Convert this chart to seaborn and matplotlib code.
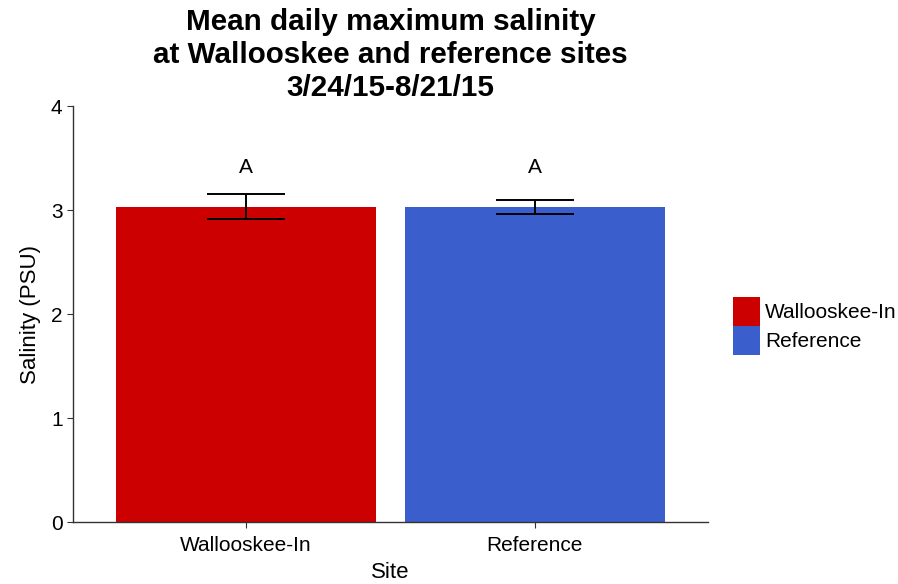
import matplotlib
matplotlib.use("Agg")
import matplotlib.pyplot as plt
import seaborn as sns
import pandas as pd

sites = ["Wallooskee-In", "Reference"]
mean_salinity = [3.03, 3.03]
std_error = [0.12, 0.065]
letters = ["A", "A"]
letter_y = [3.41, 3.41]
colors = ["#CC0000", "#3A5FCD"]

df = pd.DataFrame({"Site": sites, "Salinity": mean_salinity})

sns.set_style("ticks")
plt.rcParams["font.family"] = ["Liberation Sans", "DejaVu Sans"]
plt.rcParams["text.color"] = "black"
plt.rcParams["axes.labelcolor"] = "black"

fig = plt.figure(figsize=(8.98, 5.84), dpi=100)
ax = fig.add_axes([73 / 898, 1 - 522 / 584, (708 - 73) / 898, (522 - 106) / 584])

sns.barplot(data=df, x="Site", y="Salinity", hue="Site", order=sites,
            hue_order=sites, palette=colors, dodge=False, width=0.9,
            errorbar=None, legend=True, ax=ax, saturation=1, linewidth=0)

ax.errorbar(range(len(sites)), mean_salinity, yerr=std_error, fmt="none",
            ecolor="black", elinewidth=1.4, capsize=28, capthick=1.4)

for i, (lab, y) in enumerate(zip(letters, letter_y)):
    ax.text(i, y, lab, ha="center", va="center", fontsize=15, color="black")

ax.set_xlim(-0.6, 1.6)
ax.set_ylim(0, 4)
ax.set_yticks([0, 1, 2, 3, 4])
ax.set_xlabel("Site", fontsize=16, labelpad=5)
ax.set_ylabel("Salinity (PSU)", fontsize=16, labelpad=7)
ax.tick_params(axis="both", labelsize=15, length=4, color="#333333",
               labelcolor="black")
ax.tick_params(axis="x", pad=6)
for side in ["top", "right"]:
    ax.spines[side].set_visible(False)
for side in ["left", "bottom"]:
    ax.spines[side].set_color("#333333")
    ax.spines[side].set_linewidth(1.0)

ax.set_title("Mean daily maximum salinity\nat Wallooskee and reference sites\n3/24/15-8/21/15",
             fontsize=21.3, fontweight="bold", pad=7, linespacing=1.24,
             color="black")

leg = ax.legend(loc="center left", bbox_to_anchor=(733 / 898, 1 - 326 / 584),
                bbox_transform=fig.transFigure, frameon=False,
                fontsize=15, title=None, handlelength=1.3, handleheight=1.75,
                handletextpad=0.25, labelspacing=0.0, borderaxespad=0,
                borderpad=0)

fig.savefig("out.png", dpi=100)
